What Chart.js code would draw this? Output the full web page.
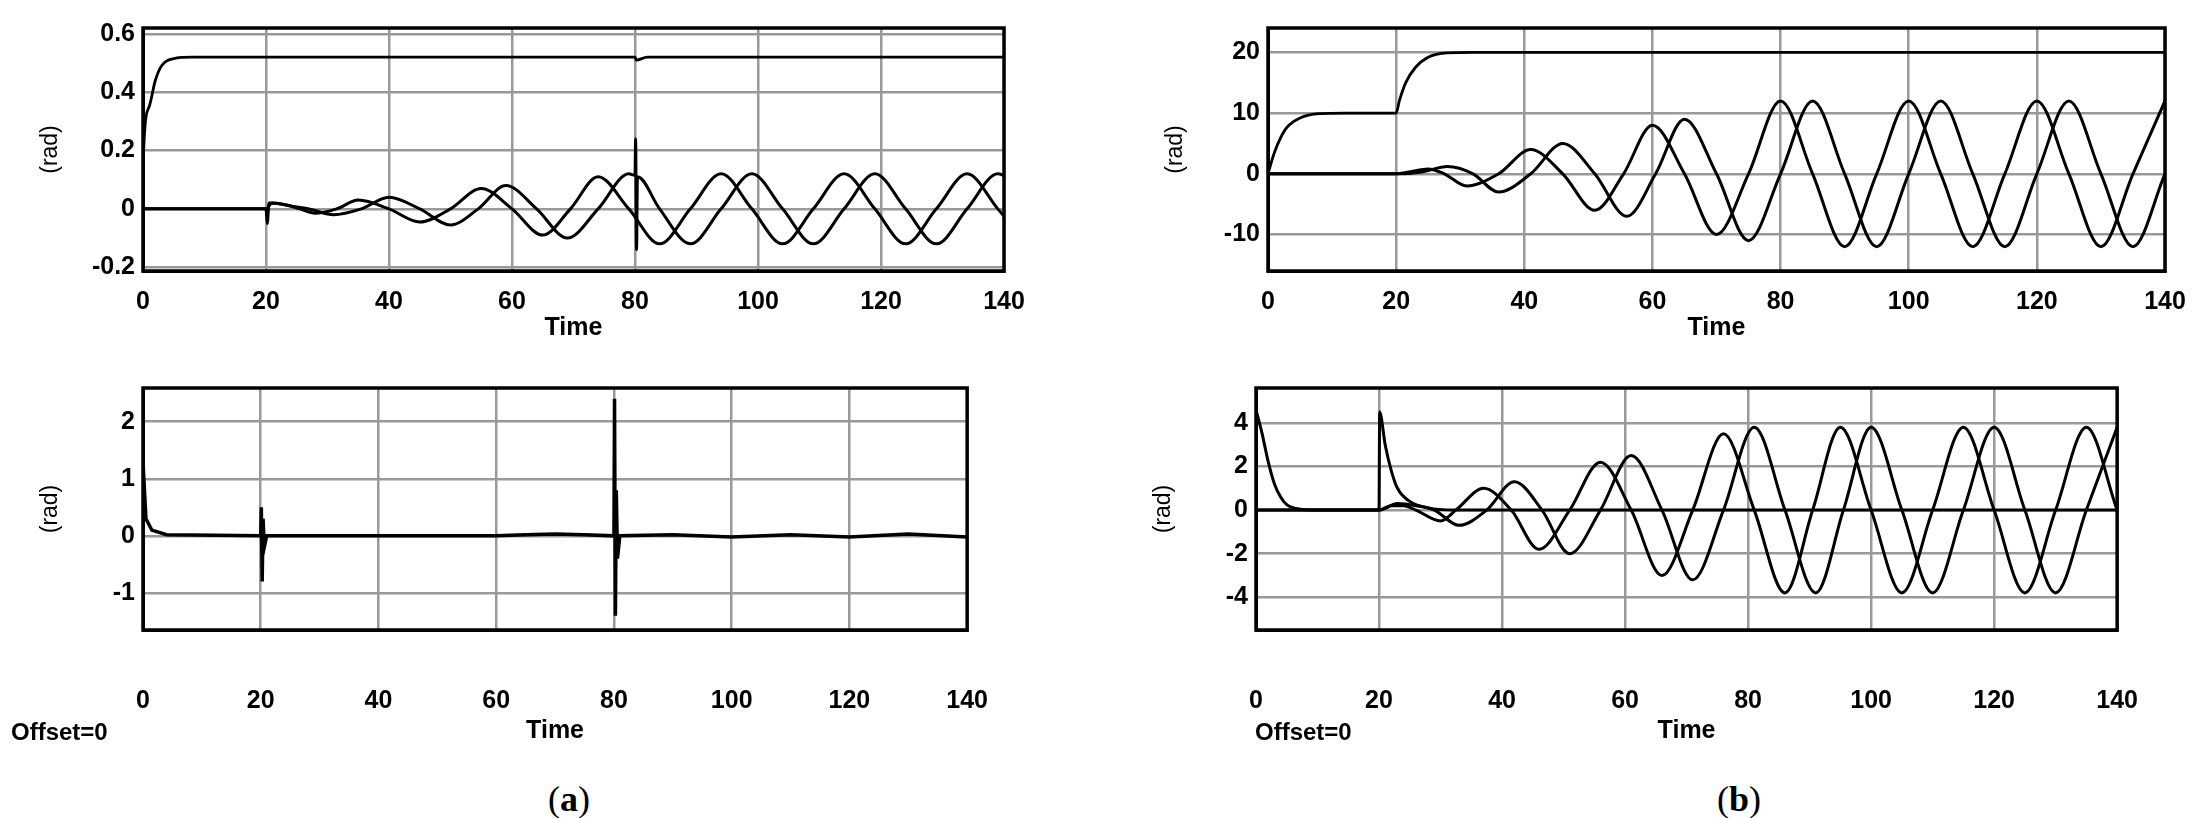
<!DOCTYPE html>
<html><head><meta charset="utf-8">
<script src="https://cdn.jsdelivr.net/npm/chart.js@4/dist/chart.umd.min.js"></script>
<style>
body{margin:0;width:2205px;height:818px;background:#fff;position:relative;overflow:hidden;font-family:"Liberation Sans",Arial,sans-serif}
canvas{position:absolute}
.lbl{position:absolute;font-weight:bold;font-size:24px;color:#000}
.cap{position:absolute;font-family:"Liberation Serif","Times New Roman",serif;font-size:36px;color:#000}
</style></head><body>
<canvas id="c1"></canvas><canvas id="c2"></canvas><canvas id="c3"></canvas><canvas id="c4"></canvas>
<div class="lbl" style="left:11px;top:718px">Offset=0</div>
<div class="lbl" style="left:1255px;top:718px">Offset=0</div>
<div class="cap" style="left:548px;top:778px">(<b>a</b>)</div>
<div class="cap" style="left:1717px;top:778px">(<b>b</b>)</div>
<script>
// x ticks shared by all panels
const xTicks = [0,20,40,60,80,100,120,140];

// (a) top
const aTopStep = [[0,0],[0.1,0.2],[1,0.35],[2,0.44],[3,0.49],[5,0.515],[8,0.52],[80,0.52],[80.2,0.51],[82,0.52],[140,0.52]];
const aTopA = [[0,0],[20,0],[20.2,-0.05],[20.5,0.02],[23,0.015],[25.5,0],[28,-0.015],[31.5,0],[35,0.03],[40,0],[45,-0.045],[50,0],[55,0.07],[60,0],[65,-0.09],[69.5,0],[74,0.11],[79,0],[84,-0.12],[89,0],[94,0.12],[99,0],[104,-0.12],[109,0],[114,0.12],[119,0],[124,-0.12],[129,0],[134,0.12],[139,0],[140,-0.025]];
const aTopB = [[0,0],[20,0],[21,0.02],[24,0.01],[27,0],[31,-0.02],[35.5,0],[40,0.04],[45,0],[50,-0.055],[54.5,0],[59,0.08],[64,0],[69,-0.1],[74,0],[79,0.12],[80,0.115],[80.1,0.24],[80.25,-0.14],[80.4,0.11],[84,0],[89,-0.12],[94,0],[99,0.12],[104,0],[109,-0.12],[114,0],[119,0.12],[124,0],[129,-0.12],[134,0],[139,0.12],[140,0.115]];
const aTopY = [-0.2,0,0.2,0.4,0.6];

// (a) bottom
const aBot = [[0,1.3],[0.5,0.3],[1.5,0.1],[4,0.02],[20,0],[20.1,0.5],[20.25,-0.8],[20.4,0.3],[20.6,-0.2],[21,0],[60,0],[65,0.02],[70,0.03],[75,0.02],[80,0],[80.1,2.4],[80.25,-1.4],[80.4,0.8],[80.6,-0.4],[81,0],[90,0.02],[100,-0.02],[110,0.02],[120,-0.02],[130,0.03],[140,-0.02]];
const aBotY = [-1,0,1,2];

// (b) top
const bTopStep = [[0,0],[1,3.5],[2,6],[3,7.7],[5,9.2],[8,9.9],[12,10],[20,10],[20.5,12],[21.5,15],[23,17.5],[25,19.2],[28,19.9],[32,20],[140,20]];
const bTopA = [[0,0],[20,0],[22,0.3],[25,0.8],[27.5,0],[31,-2],[36,0],[41,4],[46,0],[51,-6],[55.5,0],[60,8],[65,0],[70,-10],[75,0],[80,12],[85,0],[90,-12],[95,0],[100,12],[105,0],[110,-12],[115,0],[120,12],[125,0],[130,-12],[135,0],[140,12]];
const bTopB = [[0,0],[20,0],[24,0.3],[28,1.2],[32,0],[36,-3],[41,0],[46,5],[51,0],[56,-7],[60.5,0],[65,9],[70,0],[75,-11],[80,0],[85,12],[90,0],[95,-12],[100,0],[105,12],[110,0],[115,-12],[120,0],[125,12],[130,0],[135,-12],[140,0]];
const bTopY = [-10,0,10,20];

// (b) bottom
const bBotStep = [[0,4.6],[1,3.5],[2,2.2],[3,1.2],[4,0.6],[5,0.25],[7,0.05],[10,0],[20,0],[20.1,4.5],[21,3],[22,1.8],[23,1],[25,0.4],[28,0.1],[32,0],[140,0]];
const bBotA = [[0,0],[20,0],[22,0.2],[24,0.2],[26,0],[30,-0.5],[32.5,0],[37,1],[41.5,0],[46,-1.8],[51,0],[56,2.2],[61,0],[66,-3],[71,0],[76,3.5],[81,0],[86,-3.8],[90.5,0],[95,3.8],[100,0],[105,-3.8],[110,0],[115,3.8],[120,0],[125,-3.8],[130,0],[135,3.8],[140,0]];
const bBotB = [[0,0],[20,0],[23,0.3],[26,0.2],[29,0],[33,-0.7],[37.5,0],[42,1.3],[46.5,0],[51,-2],[56,0],[61,2.5],[66,0],[71,-3.2],[76,0],[81,3.8],[86,0],[91,-3.8],[95.5,0],[100,3.8],[105,0],[110,-3.8],[115,0],[120,3.8],[125,0],[130,-3.8],[135,0],[140,3.8]];
const bBotY = [-4,-2,0,2,4];

const FONT = {family:'"Liberation Sans", Arial, sans-serif', weight:'bold', size:25};
const LEFT = 110, TOP = 12, RIGHT = 40;

function ds(pts, w, smooth){
  return {data:pts, borderColor:'#000', borderWidth:w, pointRadius:0, fill:false,
    cubicInterpolationMode: smooth ? 'monotone' : 'default', tension:0};
}

function panel(id, box, sets, yMin, yMax, yTicks, tickPad, bot){
  const c = document.getElementById(id);
  const w = box.r - box.l + LEFT + RIGHT, h = box.b - box.t + TOP + bot;
  c.style.left = (box.l - LEFT) + 'px'; c.style.top = (box.t - TOP) + 'px';
  c.style.width = w + 'px'; c.style.height = h + 'px';
  c.width = w; c.height = h;
  new Chart(c, {
    type:'line',
    data:{datasets:sets},
    options:{
      responsive:false, animation:false, events:[],
      layout:{padding:{top:TOP, right:RIGHT}},
      plugins:{legend:{display:false}, tooltip:{enabled:false}},
      scales:{
        x:{type:'linear', min:0, max:140,
          afterBuildTicks:s=>{s.ticks = xTicks.map(v=>({value:v}));},
          afterFit:s=>{s.height = bot;},
          grid:{color:'#999', lineWidth:2.5, drawTicks:false},
          border:{color:'#000', width:3},
          ticks:{color:'#000', font:FONT, padding:tickPad, maxRotation:0},
          title:{display:true, text:'Time', color:'#000', font:FONT, padding:{top:0,bottom:2}}},
        y:{min:yMin, max:yMax,
          afterBuildTicks:s=>{s.ticks = yTicks.map(v=>({value:v}));},
          afterFit:s=>{s.width = LEFT;},
          grid:{color:'#999', lineWidth:2.5, drawTicks:false},
          border:{color:'#000', width:3},
          ticks:{color:'#000', font:FONT, padding:8},
          title:{display:true, text:'(rad)', color:'#000', font:{family:FONT.family, size:23}, padding:{bottom:4}}}
      }
    },
    plugins:[{id:'frame', afterDraw(ch){
      const a = ch.chartArea, g = ch.ctx;
      g.save(); g.strokeStyle = '#000'; g.lineWidth = 3.5;
      g.strokeRect(a.left, a.top, a.right - a.left, a.bottom - a.top);
      g.restore();
    }}]
  });
}

panel('c1', {l:143, r:1004, t:17, b:271}, [ds(aTopStep,2.8,true), ds(aTopA,3,true), ds(aTopB,3,true)], -0.213, 0.62, aTopY, 16, 74);
panel('c2', {l:143, r:1004, t:377, b:630}, [ds(aBot,3.5,false)], -1.65, 2.59, aBotY, 56, 118);
panel('c3', {l:1268, r:2165, t:17, b:271}, [ds(bTopStep,2.8,true), ds(bTopA,3,true), ds(bTopB,3,true)], -16, 24, bTopY, 16, 74);
panel('c4', {l:1256, r:2154, t:377, b:630}, [ds(bBotStep,3,true), ds(bBotA,3,true), ds(bBotB,3,true)], -5.5, 5.6, bBotY, 56, 118);
</script>
</body></html>
